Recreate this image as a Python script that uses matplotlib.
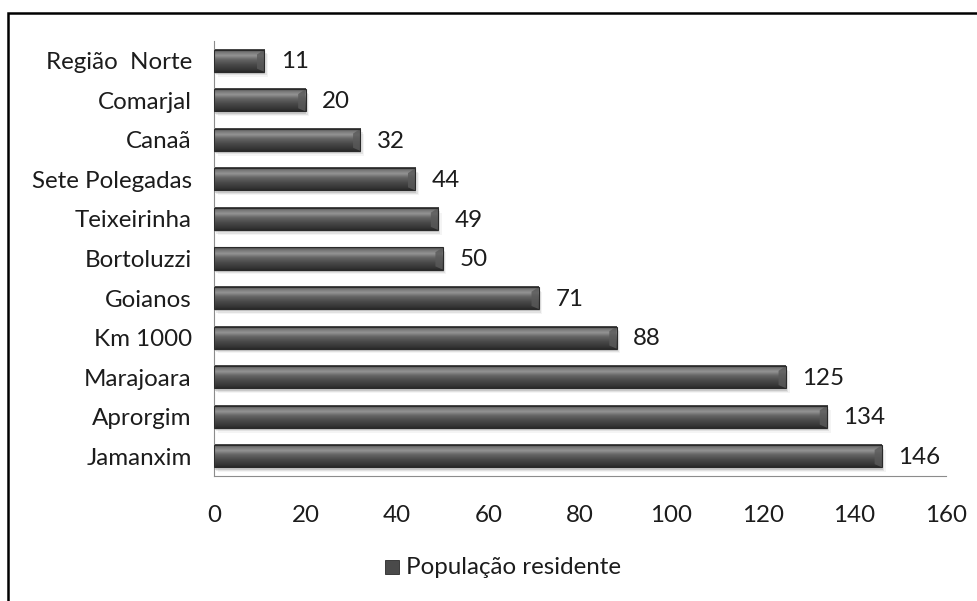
import numpy as np
import matplotlib
matplotlib.use("Agg")
import matplotlib.pyplot as plt
from matplotlib.patches import Rectangle, Polygon
from matplotlib.colors import LinearSegmentedColormap

plt.rcParams['font.family'] = ['Lato', 'DejaVu Sans']

categories = ["Região  Norte", "Comarjal", "Canaã", "Sete Polegadas", "Teixeirinha",
              "Bortoluzzi", "Goianos", "Km 1000", "Marajoara", "Aprorgim", "Jamanxim"]
values = [11, 20, 32, 44, 49, 50, 71, 88, 125, 134, 146]
xticks = [0, 20, 40, 60, 80, 100, 120, 140, 160]
series_name = "População residente"

FS = 17.4
TXT = "#1c1c1c"

fig = plt.figure(figsize=(9.77, 6.01), dpi=100)
fig.patch.set_facecolor("white")
fig.patches.append(Rectangle((8 / 977, -0.01), 1.2, 1 - 13 / 601 + 0.01,
                             transform=fig.transFigure, fill=False,
                             edgecolor="black", linewidth=1.8))

ax = fig.add_axes([214 / 977, 1 - 476 / 601, (946 - 214) / 977, (476 - 41) / 601])
y = np.arange(len(categories))
h = 0.56

# cylinder-like shading across the bar thickness (top -> bottom)
shade = LinearSegmentedColormap.from_list(
    "shade", [(0.0, "#444444"), (0.12, "#747474"), (0.28, "#949494"),
              (0.45, "#666666"), (0.7, "#474747"), (0.9, "#363636"), (1.0, "#2a2a2a")])
grad = np.linspace(0, 1, 64).reshape(-1, 1)

for yi, v in zip(y, values):
    # soft drop shadow under each bar
    for k, a in enumerate([0.35, 0.2, 0.1]):
        ax.add_patch(Rectangle((0.2 + 0.3 * k, yi - h / 2 + 0.06 + 0.03 * k), v, h,
                               facecolor="#9a9a9a", edgecolor="none", alpha=a, zorder=1))
    ax.imshow(grad, cmap=shade, aspect="auto", extent=(0, v, yi + h / 2, yi - h / 2),
              interpolation="bilinear", zorder=2)
    # bevelled end cap
    bw = 1.6
    ax.add_patch(Polygon([(v - bw, yi - h / 2 + 0.12), (v, yi - h / 2), (v, yi + h / 2),
                          (v - bw, yi + h / 2 - 0.08)], closed=True,
                         facecolor="#5a5a5a", edgecolor="none", alpha=0.8, zorder=2.5))
    ax.add_patch(Rectangle((0, yi - h / 2), v, h, fill=False, edgecolor="#2a2a2a",
                           linewidth=0.8, zorder=3))
    ax.text(v + 3.6, yi + 0.03, f"{v}", va="center", ha="left", fontsize=FS, color=TXT)

ax.set_xlim(0, 160)
ax.set_ylim(len(categories) - 0.5, -0.5)
ax.set_yticks(y)
ax.set_yticklabels(categories, fontsize=FS, color=TXT)
ax.set_xticks(xticks)
ax.set_xticklabels([str(t) for t in xticks], fontsize=FS, color=TXT)
ax.tick_params(axis="y", length=0, pad=16)
ax.tick_params(axis="x", length=0, pad=21)
for s in ["top", "right"]:
    ax.spines[s].set_visible(False)
ax.spines["left"].set_color("#8c8c8c")
ax.spines["bottom"].set_color("#8c8c8c")

# legend
fig.patches.append(Rectangle((385 / 977, 1 - 574 / 601), 14 / 977, 14 / 601,
                             transform=fig.transFigure, facecolor="#4a4a4a",
                             edgecolor="#2a2a2a", linewidth=0.6))
fig.text(406 / 977, 1 - 567 / 601, series_name, fontsize=FS, va="center",
         ha="left", color=TXT)

fig.savefig("out.png", dpi=100)
